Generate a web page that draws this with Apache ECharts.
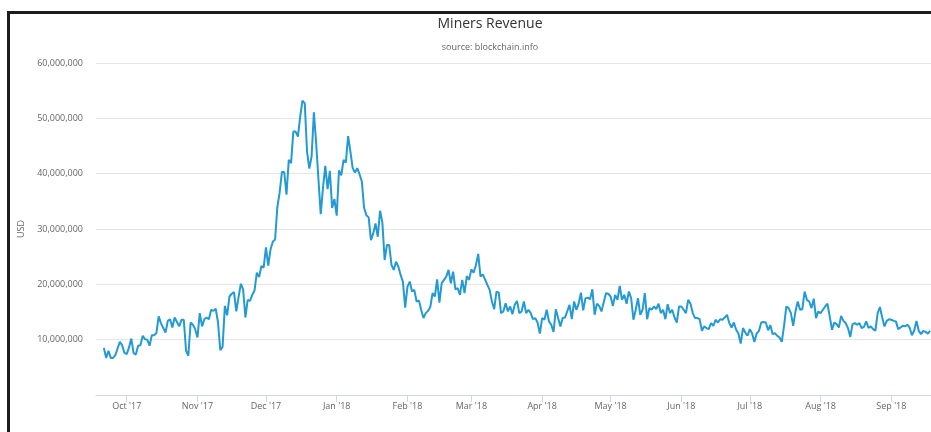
<!DOCTYPE html>
<html>
<head>
<meta charset="utf-8">
<title>Miners Revenue</title>
<script src="https://cdn.jsdelivr.net/npm/echarts@6/dist/echarts.min.js"></script>
<style>
  html, body { margin: 0; padding: 0; background: #ffffff; }
  #chart { width: 931px; height: 432px; }
</style>
</head>
<body>
<div id="chart"></div>
<script>
// Daily miners revenue in millions of USD (first day: 21 Sep 2017)
var sep17 = [8.5, 6.7, 8.0, 6.7, 6.7, 7.2, 8.4, 9.6, 9.0, 7.6];
var oct17 = [7.4, 8.6, 10.2, 7.6, 7.3, 8.9, 9.0, 10.7, 10.1, 10.0, 8.9, 10.8, 10.8, 11.2, 14.2, 13.0,
             12.1, 11.3, 13.4, 13.7, 12.2, 14.0, 13.2, 12.4, 13.6, 13.6, 8.0, 7.1, 13.1, 12.7, 11.9];
var nov17 = [10.4, 14.8, 12.4, 13.7, 14.0, 13.7, 15.4, 15.2, 15.6, 13.1, 8.1, 8.7, 16.1, 14.4, 17.8,
             18.3, 18.6, 15.1, 17.7, 20.1, 19.1, 14.0, 17.2, 17.0, 18.1, 18.9, 22.1, 21.3, 23.3, 23.0];
var dec17 = [26.7, 23.4, 26.3, 27.7, 28.1, 34.0, 36.6, 40.3, 40.3, 36.2, 42.5, 41.9, 47.6, 47.6, 46.7,
             50.3, 53.2, 52.7, 44.0, 40.9, 43.1, 51.1, 45.5, 39.0, 32.7, 37.5, 41.4, 37.2, 40.5, 33.8, 35.4];
var jan18 = [32.4, 40.6, 39.7, 42.5, 42.0, 46.8, 44.0, 41.0, 40.2, 41.0, 39.9, 38.6, 33.8, 32.5, 32.1,
             28.0, 29.2, 31.0, 28.6, 33.3, 31.2, 24.4, 27.1, 27.1, 23.5, 22.6, 24.1, 23.2, 21.7, 20.5, 15.8];
var feb18 = [19.6, 20.5, 18.7, 19.0, 16.9, 17.1, 15.4, 13.9, 14.8, 15.2, 15.9, 18.4, 17.8, 20.9, 16.7,
             20.2, 20.8, 21.4, 22.6, 20.2, 22.3, 19.1, 19.3, 18.1, 20.8, 18.4, 21.5, 20.8];
var mar18 = [22.7, 22.1, 23.5, 25.5, 21.4, 21.8, 20.9, 19.9, 19.0, 16.9, 15.5, 18.7, 18.5, 14.8, 15.1,
             16.6, 15.1, 16.0, 14.6, 16.3, 17.0, 14.8, 15.1, 16.9, 14.8, 15.4, 14.8, 13.7, 13.9, 13.1, 11.1];
var apr18 = [13.9, 13.6, 15.4, 13.3, 12.7, 11.4, 15.5, 13.9, 12.4, 13.9, 14.0, 15.1, 16.3, 13.7, 16.9,
             15.4, 16.5, 18.5, 15.3, 17.5, 17.6, 17.3, 19.1, 14.5, 16.5, 16.1, 15.1, 16.8, 18.4, 18.3];
var may18 = [17.8, 16.1, 18.1, 17.2, 19.7, 17.2, 18.1, 16.5, 18.7, 17.5, 13.6, 15.4, 17.5, 14.5, 15.4,
             18.4, 13.7, 15.7, 15.4, 16.0, 15.5, 16.5, 14.8, 15.4, 13.7, 16.4, 14.8, 15.4, 14.0, 13.1, 16.0];
var jun18 = [16.0, 15.4, 14.8, 17.2, 16.5, 14.8, 13.9, 13.9, 13.7, 11.6, 12.4, 12.1, 11.9, 13.0, 12.5,
             13.6, 13.1, 13.7, 13.6, 14.0, 14.5, 13.0, 12.2, 13.1, 11.8, 11.1, 9.3, 12.1, 11.3, 10.7];
var jul18 = [11.9, 11.1, 9.6, 11.1, 11.6, 13.1, 13.2, 13.1, 11.7, 12.6, 11.0, 11.2, 10.7, 10.4, 9.6,
             12.5, 16.0, 15.7, 14.8, 12.5, 15.1, 16.9, 15.4, 15.5, 18.7, 17.2, 16.9, 15.7, 17.4, 13.9, 15.1];
var aug18 = [14.8, 15.4, 16.0, 16.5, 14.2, 11.8, 13.1, 12.8, 12.2, 14.3, 13.4, 13.0, 12.1, 10.5, 12.8,
             13.0, 12.7, 13.0, 12.1, 12.3, 13.3, 12.1, 12.4, 11.9, 11.6, 14.8, 15.9, 14.0, 12.4, 13.4, 13.7];
var sep18 = [13.6, 13.4, 13.3, 11.9, 12.2, 12.5, 12.4, 12.7, 12.2, 10.8, 11.6, 13.4, 11.6, 11.0, 11.6,
             11.4, 11.1, 11.6];

// month ticks shown on the x axis
var monthTicks = ['2017-10', '2017-11', '2017-12', '2018-01', '2018-02', '2018-03',
                  '2018-04', '2018-05', '2018-06', '2018-07', '2018-08', '2018-09'];
var monthNames = ['Jan', 'Feb', 'Mar', 'Apr', 'May', 'Jun', 'Jul', 'Aug', 'Sep', 'Oct', 'Nov', 'Dec'];

var yTicks = [0, 10000000, 20000000, 30000000, 40000000, 50000000, 60000000];

(function () {
  'use strict';

  var values = [].concat(sep17, oct17, nov17, dec17, jan18, feb18, mar18,
                         apr18, may18, jun18, jul18, aug18, sep18);
  var seriesData = values.map(function (v, i) {
    return [new Date(2017, 8, 21 + i).getTime(), Math.round(v * 1e6)];
  });

  var tickTimes = monthTicks.map(function (m) {
    var p = m.split('-');
    return new Date(+p[0], +p[1] - 1, 1).getTime();
  });

  var font = 'Open Sans, Arial, sans-serif';
  var labelColor = '#666666';

  var chart = echarts.init(document.getElementById('chart'), null, { renderer: 'canvas' });

  chart.setOption({
    backgroundColor: '#ffffff',
    animation: false,
    title: [{
      text: 'Miners Revenue',
      left: 485,
      top: 12,
      textAlign: 'center',
      textStyle: { color: '#333333', fontSize: 14, fontWeight: 'normal', fontFamily: font }
    }, {
      text: 'source: blockchain.info',
      left: 485,
      top: 38,
      textAlign: 'center',
      textStyle: { color: labelColor, fontSize: 9, fontWeight: 'normal', fontFamily: font }
    }],
    graphic: [{
      type: 'rect',
      silent: true,
      shape: { x: 8.5, y: 12.5, width: 1000, height: 500 },
      style: { fill: 'none', stroke: '#1c1c1c', lineWidth: 3 }
    }],
    grid: { left: 96, right: 0, top: 63, bottom: 37, outerBoundsMode: 'none' },
    // timestamps on a value axis, so that the ticks can sit exactly on month starts
    xAxis: {
      type: 'value',
      min: new Date(2017, 8, 17, 13).getTime(),
      max: new Date(2018, 8, 18, 9).getTime(),
      axisLine: { lineStyle: { color: '#ccd6eb', width: 1 } },
      axisTick: { show: true, length: 7, customValues: tickTimes, lineStyle: { color: '#ccd6eb' } },
      axisLabel: {
        customValues: tickTimes,
        color: labelColor,
        fontFamily: font,
        fontSize: 9,
        margin: 7,
        formatter: function (v) {
          var d = new Date(v);
          return monthNames[d.getMonth()] + " '" + String(d.getFullYear()).slice(2);
        }
      },
      splitLine: { show: false }
    },
    yAxis: {
      type: 'value',
      min: yTicks[0],
      max: yTicks[yTicks.length - 1],
      interval: 10000000,
      name: 'USD',
      nameLocation: 'middle',
      nameGap: 66,
      nameTextStyle: { color: labelColor, fontFamily: font, fontSize: 9 },
      axisLine: { show: false },
      axisTick: { show: false },
      axisLabel: {
        color: labelColor,
        fontFamily: font,
        fontSize: 9,
        margin: 13,
        formatter: function (v) {
          return v === 0 ? '' : v.toLocaleString('en-US');
        }
      },
      splitLine: { lineStyle: { color: '#e6e6e6', width: 1 } }
    },
    series: [{
      name: 'Miners Revenue',
      type: 'line',
      data: seriesData,
      symbol: 'none',
      smooth: false,
      lineStyle: { color: '#239ad3', width: 2 },
      emphasis: { disabled: true }
    }]
  });
})();
</script>
</body>
</html>
